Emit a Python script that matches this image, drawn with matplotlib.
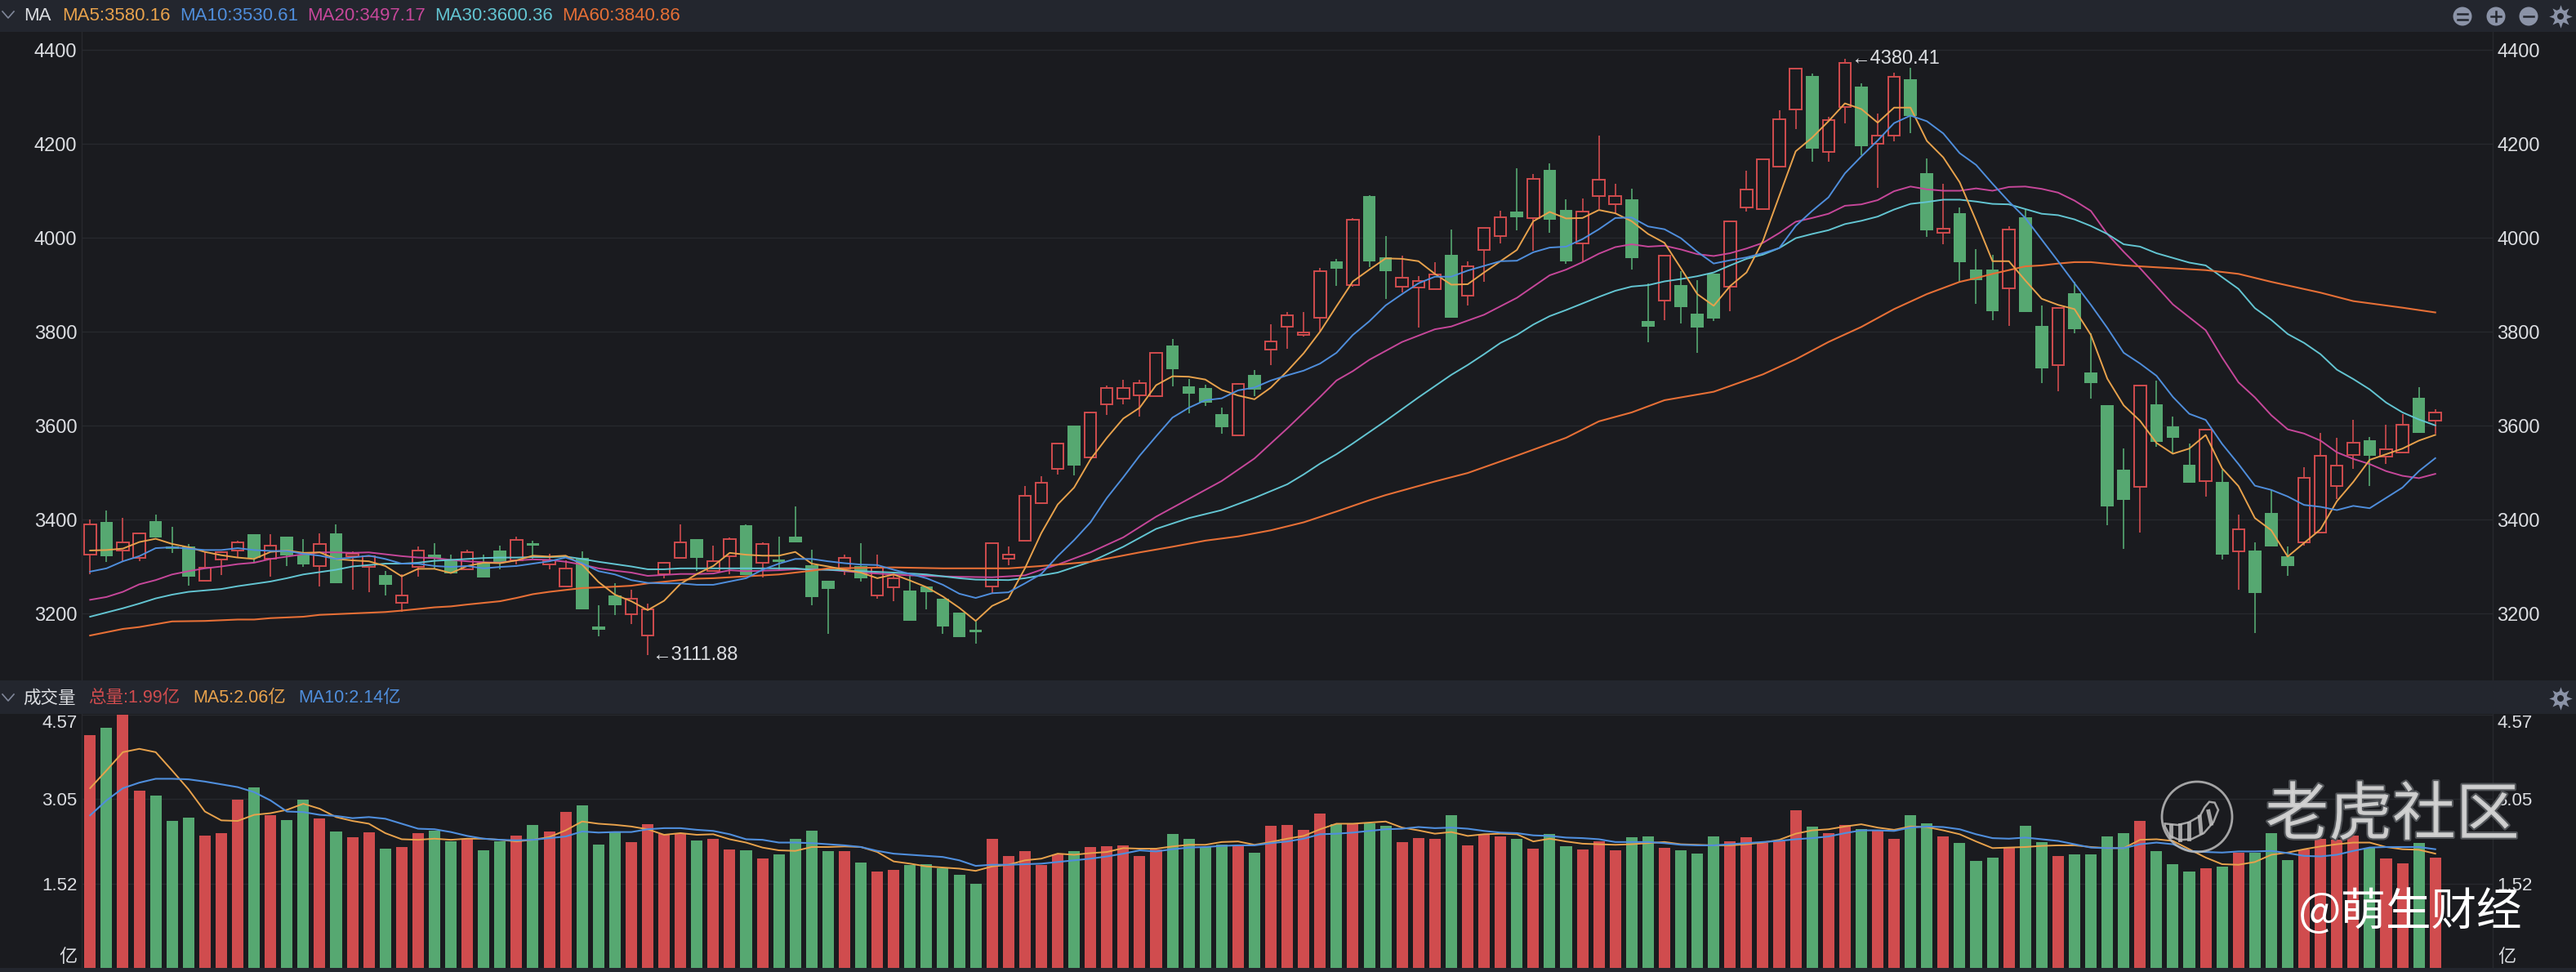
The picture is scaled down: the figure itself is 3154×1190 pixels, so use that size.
import matplotlib
matplotlib.use("Agg")
import matplotlib.pyplot as plt
import matplotlib.patheffects as pe
from matplotlib.patches import Circle, Rectangle, Polygon
import numpy as np

plt.rcParams['font.family'] = ['Liberation Sans', 'Noto Sans CJK SC', 'DejaVu Sans']

# candles
opens = [3325,3394,3334,3319,3397,3343,3343,3270,3314,3334,3368,3317,3363,3325,3301,3371,3322,3300,3281,3223,
         3300,3325,3313,3294,3307,3334,3313,3349,3304,3258,3319,3173,3239,3199,3153,3283,3319,3359,3291,3322,
         3388,3308,3314,3364,3303,3269,3296,3301,3238,3255,3249,3258,3232,3201,3166,3258,3317,3355,3435,3508,
         3600,3532,3645,3658,3664,3662,3771,3684,3680,3625,3580,3707,3761,3810,3793,3830,3950,3900,4089,3959,
         3896,3894,3890,3963,3876,3974,4003,4055,4041,4144,4059,3987,4089,4072,4081,3822,3866,3899,3839,3923,
         3896,4064,4061,4152,4273,4345,4183,4278,4322,4200,4217,4337,4137,4010,4052,3933,3933,3892,4043,3812,
         3729,3882,3713,3643,3506,3470,3646,3598,3516,3481,3480,3333,3334,3414,3322,3352,3372,3471,3538,3569,
         3534,3543,3659,3610]
closes = [3390,3322,3352,3371,3361,3337,3278,3297,3330,3352,3319,3345,3323,3304,3348,3264,3327,3322,3261,3238,
          3334,3316,3285,3330,3276,3307,3356,3344,3313,3296,3209,3165,3217,3232,3209,3308,3352,3319,3311,3359,
          3281,3348,3310,3351,3235,3252,3319,3274,3298,3275,3184,3246,3172,3149,3160,3350,3326,3450,3478,3561,
          3515,3628,3680,3680,3691,3755,3720,3668,3649,3597,3689,3677,3779,3835,3799,3929,3934,4039,3950,3928,
          3915,3908,3922,3829,3940,4021,4043,4043,4125,4038,3950,4056,4123,4089,3957,3810,3962,3852,3809,3828,
          4034,4103,4167,4252,4360,4190,4251,4372,4194,4217,4343,4260,4016,4019,3948,3910,3843,4018,3842,3722,
          3851,3805,3691,3427,3442,3686,3566,3574,3479,3592,3326,3380,3244,3343,3301,3489,3536,3515,3563,3536,
          3550,3602,3585,3627]
highs = [3400,3419,3404,3373,3410,3385,3348,3333,3330,3354,3369,3368,3363,3358,3370,3390,3332,3322,3290,3284,
         3342,3349,3325,3335,3325,3344,3364,3354,3327,3313,3332,3218,3265,3250,3221,3310,3390,3359,3345,3361,
         3390,3351,3363,3427,3335,3269,3326,3349,3325,3284,3281,3258,3232,3201,3183,3350,3342,3472,3493,3561,
         3600,3630,3685,3697,3697,3757,3785,3700,3687,3638,3691,3719,3816,3841,3841,3936,3955,4041,4090,4003,
         3961,3918,3948,4017,3950,4021,4057,4148,4135,4158,4081,4083,4217,4115,4104,3903,3962,3928,3909,3923,
         4034,4142,4167,4271,4360,4349,4257,4380.41,4328,4265,4352,4361,4168,4115,4064,3976,3964,4025,4061,3856,
         3851,3906,3796,3643,3551,3686,3696,3620,3561,3592,3506,3410,3352,3463,3342,3511,3584,3574,3613,3576,
         3602,3624,3681,3634]
lows = [3284,3310,3310,3311,3361,3329,3259,3270,3281,3319,3307,3278,3301,3300,3258,3264,3250,3246,3239,3203,
        3278,3296,3285,3294,3276,3294,3304,3316,3294,3258,3209,3151,3196,3178,3111.88,3275,3319,3290,3291,3284,
        3281,3277,3293,3351,3217,3156,3281,3267,3231,3226,3184,3209,3156,3149,3136,3243,3303,3355,3435,3496,
        3494,3532,3622,3645,3620,3662,3684,3626,3641,3583,3580,3662,3728,3764,3790,3799,3897,3895,3938,3870,
        3883,3809,3890,3829,3856,3906,3987,4016,3973,4010,3944,3950,4061,4051,3932,3778,3825,3817,3755,3823,
        3844,4055,4061,4152,4231,4161,4161,4244,4176,4106,4205,4223,4001,3986,3906,3860,3825,3812,3842,3690,
        3673,3796,3658,3388,3338,3373,3554,3541,3479,3449,3314,3250,3158,3343,3280,3344,3372,3444,3508,3471,
        3519,3543,3585,3582]

ma5 = [3334,3335,3338,3352,3359,3348,3341,3331,3324,3319,3316,3331,3334,3329,3330,3316,3313,3311,3301,3279,
       3295,3295,3286,3301,3308,3307,3313,3323,3321,3323,3304,3267,3240,3226,3207,3227,3263,3284,3301,3329,
       3325,3323,3323,3331,3306,3300,3293,3287,3275,3283,3270,3256,3236,3212,3184,3216,3232,3296,3371,3432,
       3468,3528,3574,3615,3638,3686,3705,3704,3698,3676,3664,3656,3681,3716,3754,3800,3854,3907,3932,3956,
       3955,3950,3923,3900,3901,3926,3950,3974,4035,4055,4041,4042,4059,4052,4035,4008,3989,3935,3880,3855,
       3897,3926,3993,4089,4184,4213,4248,4286,4274,4245,4277,4277,4206,4171,4118,4036,3950,3950,3909,3870,
       3857,3848,3793,3700,3643,3610,3563,3540,3551,3580,3509,3471,3403,3377,3321,3350,3379,3439,3480,3527,
       3539,3551,3568,3580.16]
ma10 = [3289,3296,3311,3322,3339,3341,3338,3335,3335,3339,3335,3333,3333,3327,3323,3316,3319,3323,3316,3306,
        3306,3301,3299,3301,3296,3299,3301,3306,3311,3319,3307,3290,3283,3271,3265,3264,3264,3261,3261,3268,
        3275,3293,3306,3316,3316,3311,3307,3304,3303,3293,3284,3275,3261,3242,3233,3243,3245,3264,3284,3322,
        3356,3394,3446,3490,3536,3577,3617,3638,3654,3658,3675,3681,3696,3707,3717,3732,3755,3793,3822,3856,
        3880,3903,3917,3917,3930,3940,3950,3951,3969,3979,3981,3997,4018,4042,4043,4024,4018,3999,3970,3945,
        3952,3958,3967,3978,4025,4057,4086,4137,4173,4207,4244,4260,4248,4222,4180,4155,4115,4077,4042,3996,
        3950,3903,3857,3808,3755,3732,3706,3661,3625,3612,3561,3518,3472,3463,3449,3431,3427,3420,3429,3424,
        3446,3468,3503,3530.61]

ma20_idx = list(range(45)) + [45,47,50,53,55,57,58,59,61,63,65,67,69,71,73,75,76,77,78,80,82,83,85,87,89,90,91,92,93,94,95,96,
                              97,98,99,100,101,102,103,104,105,106,107,108,109,110,111,112,113,114,115,116,117,118,119,120,
                              121,122,123,124,125,127,129,130,131,132,133,134,135,136,137,138,139,140,141,142,143]
ma20 = [3229,3235,3246,3262,3271,3283,3290,3296,3300,3305,3308,3316,3321,3326,3330,3330,3329,3330,3326,3322,
        3319,3318,3314,3311,3309,3308,3313,3315,3314,3310,3304,3296,3291,3287,3280,3282,3284,3284,3285,3292,
        3290,3291,3292,3294,3294,3293,3287,3281,3278,3277,3281,3293,3304,3330,3362,3406,3444,3482,3530,3594,
        3661,3696,3716,3740,3778,3805,3811,3836,3872,3920,3932,3948,3966,3980,3986,3981,3983,3975,3965,3961,
        3967,3977,3989,4010,4034,4042,4051,4068,4071,4080,4099,4109,4103,4100,4100,4105,4100,4108,4109,4104,
        4096,4079,4057,4008,3970,3935,3858,3803,3745,3692,3660,3622,3592,3583,3568,3543,3529,3518,3503,3493,
        3488,3497.17]

ma30_idx = [0] + list(range(2, 45)) + [45,47,49,51,53,54,56,57,59,61,63,65,67,69,71,73] + list(range(74, 144))
ma30 = [3193,3211,3221,3232,3240,3246,3249,3252,3258,3263,3268,3275,3283,3288,3293,3300,3303,3306,3306,3308,
        3312,3314,3316,3318,3319,3319,3320,3320,3321,3316,3310,3305,3300,3294,3294,3296,3296,3296,3296,3296,
        3296,3296,3296,3293,3293,3290,3287,3283,3275,3272,3271,3275,3287,3310,3342,3380,3403,3420,3446,3475,
        3496,3519,3539,3562,3586,3610,3635,3660,3684,3708,3729,3752,3776,3793,3815,3833,3846,3860,3874,3887,
        3896,3899,3907,3912,3918,3926,3941,3955,3964,3978,3999,4008,4016,4029,4036,4045,4060,4072,4076,4081,
        4081,4077,4072,4071,4061,4051,4048,4039,4025,4008,3986,3981,3967,3957,3947,3941,3916,3891,3850,3825,
        3795,3776,3752,3719,3699,3677,3649,3628,3613,3600.36]

ma60_idx = [0,2,3,5,7,9,10,11,13,14,16,18,19,21,22,23,25,26,27,28,29,30,32,33,34,36,37,38,40,42,43,44,45,47,49,52,56,58,61,64,66,
            68,70,72,74,76,78,79,82,84,87,90,92,94,96,99,102,104,106,108,110,112,114,115,116,117,118,119,120,121,122,124,126,
            129,131,133,136,138,141,143]
ma60 = [3153,3167,3171,3183,3184,3187,3187,3190,3193,3197,3200,3203,3206,3213,3215,3219,3226,3233,3241,3246,3250,3254,
        3257,3259,3264,3271,3274,3275,3279,3283,3287,3291,3296,3297,3298,3296,3296,3301,3310,3330,3342,3355,3364,3377,
        3394,3417,3441,3452,3481,3499,3536,3574,3609,3628,3654,3672,3709,3741,3778,3810,3848,3880,3906,3914,3923,3931,
        3939,3941,3945,3948,3948,3941,3937,3931,3923,3906,3883,3865,3851,3840.86]

# volume panel, in units of 100 million
volume = [4.20,4.33,4.57,3.20,3.11,2.65,2.71,2.39,2.43,3.03,3.25,2.76,2.67,3.03,2.70,2.46,2.36,2.44,2.15,2.18,
          2.43,2.48,2.29,2.32,2.12,2.29,2.39,2.58,2.46,2.82,2.93,2.22,2.44,2.27,2.59,2.41,2.43,2.30,2.32,2.14,
          2.12,1.98,2.04,2.32,2.48,2.11,2.11,1.90,1.74,1.77,1.86,1.87,1.79,1.68,1.52,2.33,2.02,2.11,1.86,2.05,
          2.10,2.18,2.19,2.21,2.02,2.14,2.41,2.33,2.18,2.23,2.19,2.08,2.56,2.58,2.49,2.79,2.59,2.59,2.61,2.56,
          2.27,2.34,2.33,2.76,2.21,2.41,2.37,2.33,2.15,2.42,2.19,2.14,2.28,2.12,2.36,2.37,2.17,2.12,2.06,2.37,
          2.28,2.36,2.26,2.28,2.84,2.55,2.43,2.58,2.50,2.48,2.32,2.75,2.60,2.37,2.25,1.93,1.99,2.18,2.56,2.27,
          2.02,2.04,2.05,2.37,2.43,2.65,2.11,1.87,1.74,1.80,1.82,2.08,2.08,2.43,1.95,2.14,2.33,2.31,2.38,2.16,
          1.97,1.89,2.25,1.99]
vol_ma5 = [3.24,3.56,3.89,3.95,3.89,3.56,3.22,2.82,2.66,2.65,2.76,2.79,2.85,2.96,2.87,2.72,2.65,2.60,2.43,2.32,
           2.31,2.33,2.31,2.33,2.33,2.31,2.28,2.31,2.36,2.48,2.64,2.60,2.58,2.55,2.50,2.40,2.43,2.40,2.41,2.32,
           2.26,2.17,2.12,2.11,2.18,2.18,2.19,2.18,2.09,1.92,1.88,1.83,1.81,1.79,1.75,1.83,1.86,1.94,1.97,2.06,
           2.04,2.07,2.09,2.16,2.15,2.15,2.19,2.22,2.22,2.27,2.28,2.22,2.27,2.33,2.38,2.50,2.60,2.60,2.62,2.64,
           2.53,2.48,2.42,2.45,2.38,2.41,2.42,2.41,2.28,2.33,2.28,2.24,2.23,2.22,2.23,2.25,2.27,2.23,2.22,2.21,
           2.21,2.23,2.26,2.31,2.42,2.48,2.50,2.55,2.59,2.53,2.49,2.55,2.54,2.48,2.41,2.28,2.16,2.17,2.18,2.20,
           2.21,2.21,2.18,2.16,2.16,2.31,2.32,2.29,2.14,1.99,1.87,1.86,1.91,2.04,2.08,2.14,2.19,2.23,2.26,2.26,
           2.18,2.14,2.13,2.06]
vol_ma10 = [2.75,3.02,3.24,3.34,3.41,3.41,3.40,3.36,3.31,3.26,3.17,3.02,2.82,2.81,2.76,2.74,2.70,2.72,2.69,2.60,
            2.51,2.50,2.45,2.38,2.33,2.31,2.30,2.31,2.34,2.37,2.46,2.44,2.45,2.45,2.50,2.52,2.52,2.49,2.47,2.41,
            2.32,2.31,2.26,2.26,2.25,2.23,2.21,2.18,2.11,2.06,2.04,2.02,2.00,1.94,1.84,1.86,1.86,1.87,1.88,1.91,
            1.94,1.97,2.01,2.06,2.12,2.10,2.14,2.17,2.18,2.20,2.21,2.21,2.25,2.28,2.33,2.41,2.42,2.44,2.47,2.50,
            2.51,2.54,2.52,2.53,2.51,2.47,2.44,2.43,2.39,2.38,2.35,2.34,2.32,2.27,2.27,2.27,2.25,2.22,2.21,2.21,
            2.23,2.25,2.27,2.29,2.32,2.34,2.37,2.43,2.48,2.48,2.47,2.53,2.55,2.54,2.50,2.41,2.34,2.33,2.35,2.32,
            2.29,2.23,2.17,2.16,2.16,2.23,2.26,2.23,2.11,2.09,2.08,2.10,2.10,2.11,2.07,2.02,2.01,2.04,2.11,2.17,
            2.18,2.18,2.18,2.14]

price_ticks = [3200, 3400, 3600, 3800, 4000, 4200, 4400]
volume_ticks = [1.52, 3.05, 4.57]

BG = '#1a1b1f'
HEADER = '#23262e'
GRID = '#27292e'
TEXT = '#dcdee2'
RED = '#d04c4e'
GREEN = '#56a871'
C_MA5 = '#e8a24c'
C_MA10 = '#4f8edc'
C_MA20 = '#c6479a'
C_MA30 = '#63c5d2'
C_MA60 = '#e66f36'
ICON = '#8b93a7'

W, H = 3154, 1190
fig = plt.figure(figsize=(W / 100, H / 100), dpi=100, facecolor=BG)


def panel(left, top, right, bottom):
    return fig.add_axes([left / W, 1 - bottom / H, (right - left) / W, (bottom - top) / H], facecolor=BG)


x = np.arange(len(opens))
opens, closes = np.array(opens), np.array(closes)
highs, lows = np.array(highs), np.array(lows)
up = closes >= opens
body_top = np.maximum(opens, closes)
body_bot = np.minimum(opens, closes)
xlim = (-0.513, 146.5)

# price panel
ax = panel(100, 39, 3052, 833)
ax.set_xlim(xlim)
ax.set_ylim(3057.4, 4438.3)
for flag, col in ((up, RED), (~up, GREEN)):
    ax.vlines(x[flag], body_top[flag], highs[flag], color=col, lw=1.2, zorder=2)
    ax.vlines(x[flag], lows[flag], body_bot[flag], color=col, lw=1.2, zorder=2)
ax.bar(x[~up], (body_top - body_bot)[~up], 0.78, bottom=body_bot[~up], color=GREEN, zorder=3)
ax.bar(x[up], (body_top - body_bot)[up], 0.72, bottom=body_bot[up], fill=False, edgecolor=RED, lw=1.4, zorder=3)
ax.plot(x, ma5, color=C_MA5, lw=1.4, zorder=5)
ax.plot(x, ma10, color=C_MA10, lw=1.4, zorder=5)
ax.plot(ma20_idx, ma20, color=C_MA20, lw=1.4, zorder=4)
ax.plot(ma30_idx, ma30, color=C_MA30, lw=1.4, zorder=4)
ax.plot(ma60_idx, ma60, color=C_MA60, lw=1.5, zorder=4)

hi_i, lo_i = int(np.argmax(highs)), int(np.argmin(lows))
ax.annotate('←%.2f' % highs[hi_i], (hi_i, highs[hi_i]), xytext=(5, 0), textcoords='offset points',
            va='center', color=TEXT, fontsize=17, zorder=6)
ax.annotate('←%.2f' % lows[lo_i], (lo_i, lows[lo_i]), xytext=(4, 0), textcoords='offset points',
            va='center', color=TEXT, fontsize=17, zorder=6)

ax.set_yticks(price_ticks)
ax.set_xticks([])
ax.grid(axis='y', color=GRID, lw=1)
ax.set_axisbelow(True)
ax.tick_params(axis='y', length=0, pad=4, labelleft=True, labelright=True, labelcolor=TEXT, labelsize=17)

# volume panel
vax = panel(100, 874, 3052, 1185)
vax.set_xlim(xlim)
vax.set_ylim(0, 4.58)
vol = np.array(volume)
vax.bar(x[up], vol[up], 0.7, color=RED, zorder=3)
vax.bar(x[~up], vol[~up], 0.7, color=GREEN, zorder=3)
vax.plot(x, vol_ma5, color=C_MA5, lw=1.4, zorder=4)
vax.plot(x, vol_ma10, color=C_MA10, lw=1.5, zorder=4)
vax.set_yticks(volume_ticks)
vax.set_xticks([])
vax.grid(axis='y', color=GRID, lw=1)
vax.set_axisbelow(True)
vax.tick_params(axis='y', length=0, pad=4, labelleft=True, labelright=True, labelcolor=TEXT, labelsize=16)
for lab in vax.get_yticklabels():
    if lab.get_text() == '4.57':
        lab.set_va('top')

for a in (ax, vax):
    for side in ('top', 'bottom'):
        a.spines[side].set_visible(False)
    for side in ('left', 'right'):
        a.spines[side].set_color(GRID)
        a.spines[side].set_linewidth(1)

# headers, icons and watermark sit on a pixel-sized overlay
ov = fig.add_axes([0, 0, 1, 1], facecolor='none', zorder=10)
ov.set_xlim(0, W)
ov.set_ylim(H, 0)
ov.axis('off')
ov.add_patch(Rectangle((0, 0), W, 39, color=HEADER, lw=0))
ov.add_patch(Rectangle((0, 833), W, 41, color=HEADER, lw=0))
ov.add_patch(Rectangle((0, 1185), W, 5, color=HEADER, lw=0))

for cy in (19, 855):
    ov.plot([3, 10, 17], [cy - 5, cy + 3, cy - 5], color='#80879a', lw=1.2)

top_labels = [('MA', 29, TEXT), ('MA5:3580.16', 76, C_MA5), ('MA10:3530.61', 220, C_MA10),
              ('MA20:3497.17', 376, C_MA20), ('MA30:3600.36', 532, C_MA30), ('MA60:3840.86', 688, C_MA60)]
for s, px, col in top_labels:
    ov.text(px, 19.5, s, color=col, fontsize=16, va='center')
vol_labels = [('成交量', 28, TEXT), ('总量:1.99亿', 108, RED), ('MA5:2.06亿', 236, C_MA5), ('MA10:2.14亿', 365, C_MA10)]
for s, px, col in vol_labels:
    ov.text(px, 855, s, color=col, fontsize=15.5, va='center')

for cx in (3015, 3056, 3096):
    ov.add_patch(Circle((cx, 20), 11.5, color=ICON, lw=0))
ov.plot([3009, 3021], [16.5, 16.5], color=HEADER, lw=1.8)
ov.plot([3009, 3021], [23.5, 23.5], color=HEADER, lw=1.8)
ov.plot([3050, 3062], [20, 20], color=HEADER, lw=1.8)
ov.plot([3056, 3056], [14, 26], color=HEADER, lw=1.8)
ov.plot([3090, 3102], [20, 20], color=HEADER, lw=1.8)
for cy in (20, 855):
    ov.scatter([3135], [cy], s=420, marker=(8, 1, 0), color=ICON, lw=0)
    ov.add_patch(Circle((3135, cy), 8.5, color=ICON, lw=0, zorder=4))
    ov.add_patch(Circle((3135, cy), 4, color=HEADER, lw=0, zorder=5))

# 亿 unit labels
ov.text(95, 1173, '亿', color=TEXT, fontsize=16, va='center', ha='right')
ov.text(3058, 1173, '亿', color=TEXT, fontsize=16, va='center', ha='left')

# watermark: ring, tail shape with stripes, then the two captions
WM = '#bdbdbd'
ov.add_patch(Circle((2690, 1000), 43, fill=False, edgecolor=WM, lw=2, alpha=0.85))
tail = [(62, 215), (80, 250), (115, 265), (160, 262), (205, 240), (240, 200), (258, 155), (245, 128), (225, 125),
        (208, 145), (190, 178), (150, 200), (110, 210), (62, 205)]
ov.add_patch(Polygon([(2630 + a / 3, 940 + b / 3) for a, b in tail], closed=True, fill=False, edgecolor=WM,
                     lw=1.8, alpha=0.85))
stripes = [(85, 212, 85, 252), (118, 210, 118, 265), (150, 203, 150, 260), (190, 180, 195, 238), (222, 160, 232, 205)]
for x0, y0, x1, y1 in stripes:
    ov.plot([2630 + x0 / 3, 2630 + x1 / 3], [940 + y0 / 3, 940 + y1 / 3], color=WM, lw=3.5, alpha=0.85)
ov.text(2929, 1000, '老虎社区', color='#d4d4d4', fontsize=56, ha='center', va='center', family='Noto Sans CJK SC',
        alpha=0.92, path_effects=[pe.withStroke(linewidth=3, foreground='#55585c')])
ov.text(2951, 1117, '@萌生财经', color='#ffffff', fontsize=40, ha='center', va='center',
        family='Noto Sans CJK SC', fontweight='light')

fig.savefig('out.png', dpi=100, facecolor=BG)
